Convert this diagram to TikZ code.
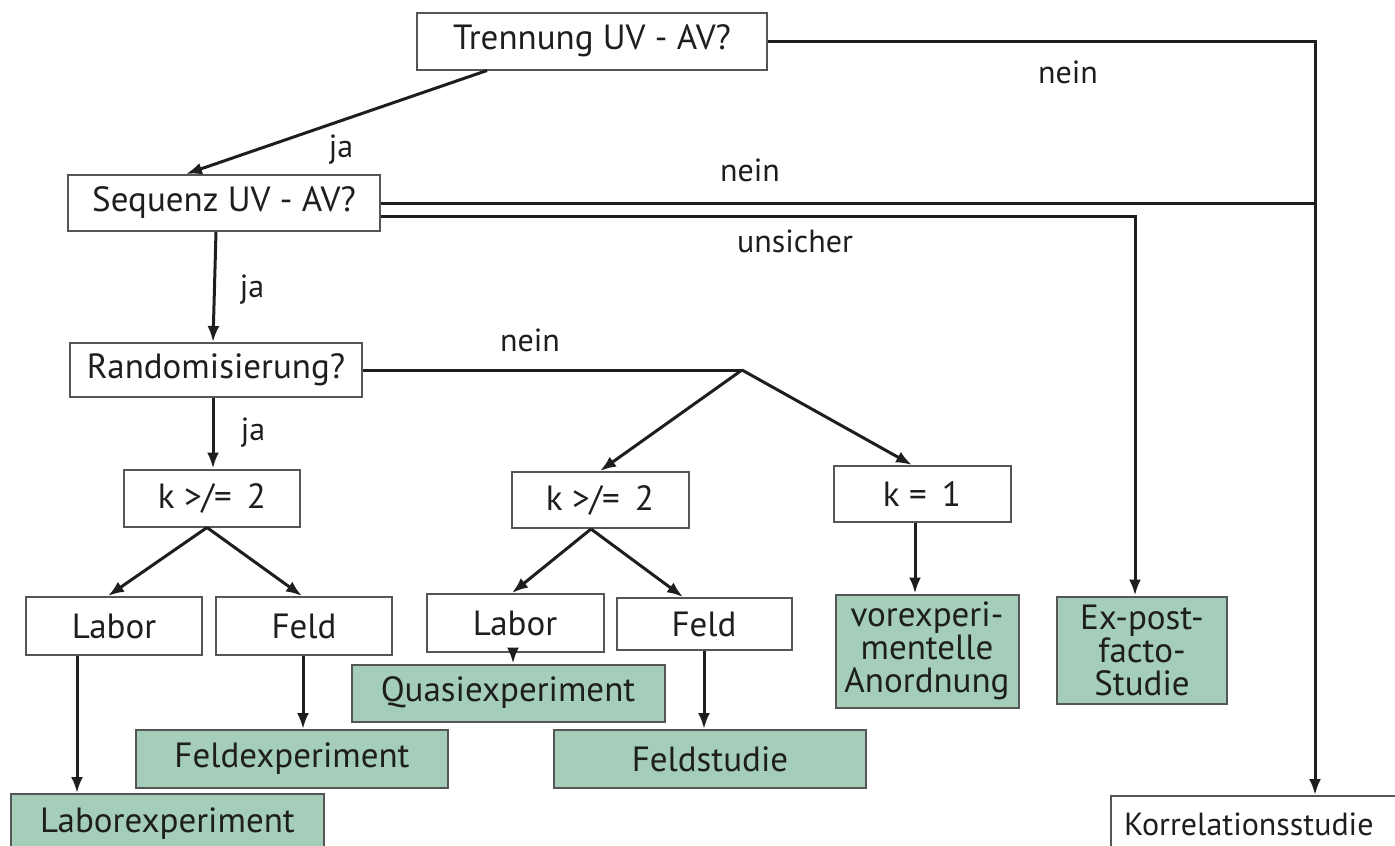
\documentclass[tikz,border=0pt]{standalone}
\usepackage{fontspec}
\setmainfont{PT Sans}
\usetikzlibrary{arrows.meta}
\definecolor{boxgreen}{RGB}{164,206,186}
\definecolor{ink}{RGB}{30,30,30}
\tikzset{
  box/.style={draw=ink!75, line width=2pt, fill=white, inner sep=0pt, text=ink,
    font=\fontsize{35}{33}\selectfont, align=center},
  res/.style={box, fill=boxgreen},
  conn/.style={draw=ink, line width=3pt},
  arr/.style={conn, -{Latex[length=16pt,width=12pt]}},
  lbl/.style={text=ink, font=\fontsize{32}{34}\selectfont, inner sep=0pt}
}
\begin{document}
\begin{tikzpicture}[x=1pt,y=-1pt]
\useasboundingbox (0,0) rectangle (1395,846);
% question boxes
\node[box, minimum width=350, minimum height=57] (trenn) at (592,41) {Trennung UV - AV?};
\node[box, minimum width=312, minimum height=56] (seq) at (224,203) {Sequenz UV - AV?};
\node[box, minimum width=292, minimum height=54] (rand) at (216,370) {Randomisierung?};
\node[box, minimum width=176, minimum height=57] (kA) at (212,498) {k >/=\, 2};
\node[box, minimum width=177, minimum height=56] (kB) at (600,500) {k >/=\, 2};
\node[box, minimum width=177, minimum height=56] (kC) at (922,494) {k =\, 1};
\node[box, minimum width=176, minimum height=58] (labA) at (114,626) {Labor};
\node[box, minimum width=176, minimum height=58] (felA) at (304,626) {Feld};
\node[box, minimum width=177, minimum height=58] (labB) at (515,623) {Labor};
\node[box, minimum width=175, minimum height=52] (felB) at (704,624) {Feld};
% result boxes
\node[res, minimum width=313, minimum height=60, anchor=north west] (labexp) at (10,793) {Laborexperiment};
\node[res, minimum width=312, minimum height=58] (felexp) at (292,759) {Feldexperiment};
\node[res, minimum width=313, minimum height=57] (quasi) at (508,693) {Quasiexperiment};
\node[res, minimum width=312, minimum height=58] (felst) at (710,759) {Feldstudie};
\node[res, minimum width=183, minimum height=113] (vorex) at (927,651) {vorexperi-\\mentelle\\Anordnung};
\node[res, minimum width=170, minimum height=107] (expost) at (1142,650) {Ex-post-\\facto-\\Studie};
\node[box, font=\fontsize{32}{33}\selectfont, inner xsep=13pt, text width=264pt, align=left, minimum height=56, anchor=north west] (korr) at (1110,795) {Korrelationsstudie};
% helper coordinates
\coordinate (kin) at (1315,795);
\coordinate (split) at (742,370);
% connectors
\draw[arr] (trenn.east) -| (kin);
\draw[arr] ([xshift=-105pt]trenn.south) -- ([xshift=-38pt]seq.north);
\draw[conn] (seq.east) -- (seq.east -| kin);
\draw[arr] ([yshift=-13pt]seq.east) -| ([xshift=-7pt]expost.north);
\draw[arr] ([xshift=-8pt]seq.south) -- ([xshift=-3pt]rand.north);
\draw[conn] (rand.east) -- (split);
\draw[arr] (split) -- (kB.north);
\draw[arr] (split) -- ([xshift=-10pt]kC.north);
\draw[arr] ([xshift=-3pt]rand.south) -- ([xshift=1pt]kA.north);
\draw[arr] ([xshift=-5pt]kA.south) -- ([xshift=-6pt]labA.north);
\draw[arr] ([xshift=-5pt]kA.south) -- ([xshift=-2pt]felA.north);
\draw[arr] ([xshift=-9pt]kB.south) -- ([xshift=-3pt]labB.north);
\draw[arr] ([xshift=-9pt]kB.south) -- ([xshift=-21pt]felB.north);
\draw[arr] ([xshift=-37pt]labA.south) -- ([xshift=-37pt]labA.south |- labexp.north);
\draw[arr] ([xshift=-1pt]felA.south) -- ([xshift=-1pt]felA.south |- felexp.north);
\draw[arr] ([xshift=-2pt]labB.south) -- ([xshift=-2pt]labB.south |- quasi.north);
\draw[arr] (felB.south) -- (felB.south |- felst.north);
\draw[arr] ([xshift=-7pt]kC.south) -- ([xshift=-7pt]kC.south |- vorex.north);
% labels
\node[lbl] (l1) at (1068,72) {nein};
\node[lbl] (l2) at (341,150) {ja};
\node[lbl] (l3) at (750,170) {nein};
\node[lbl] (l4) at (795,241) {unsicher};
\node[lbl] (l5) at (252,290) {ja};
\node[lbl] (l6) at (530,340) {nein};
\node[lbl] (l7) at (253,433) {ja};
\end{tikzpicture}
\end{document}
